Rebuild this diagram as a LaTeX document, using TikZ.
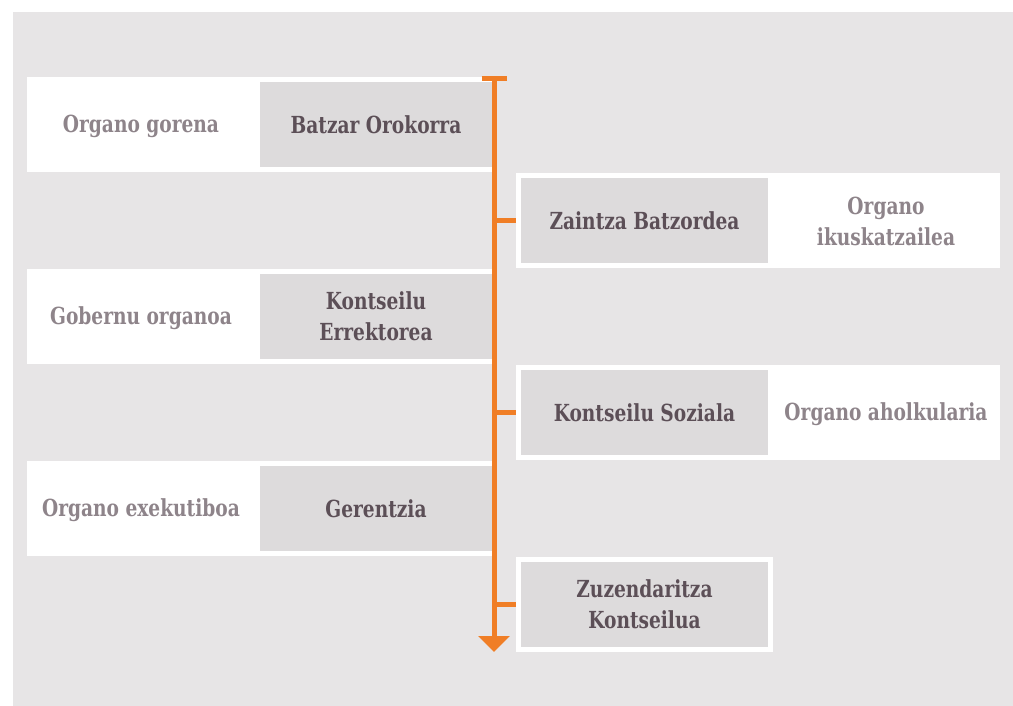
\documentclass[tikz,border=0pt]{standalone}
\usepackage{fontspec}
\newfontfamily\slab{DejaVu Serif Condensed Bold}[FakeStretch=0.88]
\usetikzlibrary{arrows.meta}
\definecolor{bggray}{HTML}{E7E5E6}
\definecolor{boxgray}{HTML}{DDDBDC}
\definecolor{darktxt}{HTML}{5C4F57}
\definecolor{lighttxt}{HTML}{8E848A}
\definecolor{orangeline}{HTML}{F07E26}
\tikzset{
  whitebox/.style={fill=white, draw=none, inner sep=0pt, minimum height=95pt},
  graybox/.style={fill=boxgray, draw=none, inner sep=0pt, minimum height=85pt, text=darktxt, font=\slab\fontsize{23.5}{31}\selectfont, align=center},
  labeltxt/.style={inner sep=0pt, text=lighttxt, font=\slab\fontsize{23.5}{31}\selectfont, align=center},
  spine/.style={draw=orangeline, line width=5pt},
}
\begin{document}
\begin{tikzpicture}[x=1pt,y=-1pt]
\useasboundingbox (0,0) rectangle (1013,706);
\fill[white] (0,0) rectangle (1013,706);
\fill[bggray] (13,12) rectangle (1013,706);
% left rows
\node[whitebox, minimum width=465pt] (w1) at (259.5,124.5) {};
\node[graybox, minimum width=232pt] (g1) at (376,125) {Batzar Orokorra};
\node[labeltxt] (t1) at (141,126.5) {Organo gorena};
\node[whitebox, minimum width=465pt] (w3) at (259.5,316.5) {};
\node[graybox, minimum width=232pt] (g3) at (376,316.5) {Kontseilu\\Errektorea};
\node[labeltxt] (t3) at (141,318.5) {Gobernu organoa};
\node[whitebox, minimum width=465pt] (w5) at (259.5,508.5) {};
\node[graybox, minimum width=232pt] (g5) at (376,508.5) {Gerentzia};
\node[labeltxt] (t5) at (141,510.5) {Organo exekutiboa};
% right rows
\node[whitebox, minimum width=484pt] (w2) at (758,220.5) {};
\node[graybox, minimum width=247pt] (g2) at (644.5,220.5) {Zaintza Batzordea};
\node[labeltxt] (t2) at (886,221.5) {Organo\\ikuskatzailea};
\node[whitebox, minimum width=484pt] (w4) at (758,412.5) {};
\node[graybox, minimum width=247pt] (g4) at (644.5,412.5) {Kontseilu Soziala};
\node[labeltxt] (t4) at (886,414) {Organo aholkularia};
\node[whitebox, minimum width=257pt] (w6) at (644.5,604.5) {};
\node[graybox, minimum width=247pt] (g6) at (644.5,604.5) {Zuzendaritza\\Kontseilua};
% spine
\coordinate (top) at (494,79);
\coordinate (topL) at (481.5,79);
\coordinate (topR) at (506.5,79);
\coordinate (bottom) at (494,652);
\draw[spine] (topL) -- (topR);
\draw[spine, -{Triangle[length=16pt,width=31pt]}] (top) -- (bottom);
\draw[spine] (w2.west -| top) -- (w2.west);
\draw[spine] (w4.west -| top) -- (w4.west);
\draw[spine] (w6.west -| top) -- (w6.west);
\end{tikzpicture}
\end{document}
